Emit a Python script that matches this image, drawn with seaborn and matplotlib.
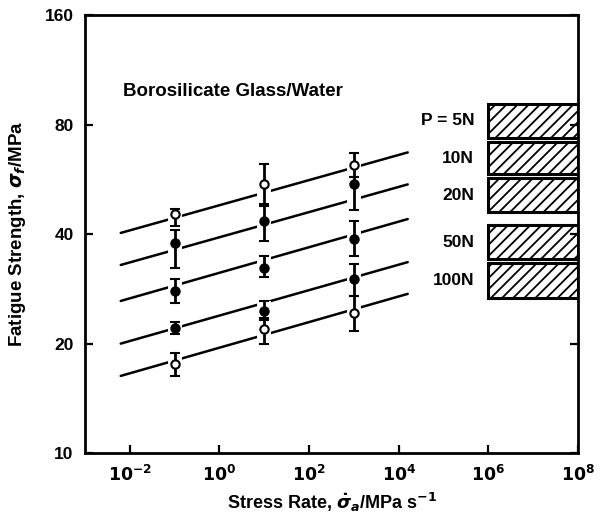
import numpy as np
import pandas as pd
import seaborn as sns
import matplotlib.pyplot as plt

# loads and measured fatigue strengths (MPa) at three stress rates
loads = ['5N', '10N', '20N', '50N', '100N']
load_labels = ['P = 5N', '10N', '20N', '50N', '100N']
rates = [1e-1, 1e1, 1e3]

strength = {
    '5N':   [45.3, 54.8, 61.8],
    '10N':  [37.8, 43.4, 54.8],
    '20N':  [27.9, 32.3, 38.8],
    '50N':  [22.1, 24.6, 30.1],
    '100N': [17.6, 22.0, 24.3],
}
err_low = {
    '5N':   [42.0, 48.3, 57.6],
    '10N':  [32.3, 38.3, 46.7],
    '20N':  [25.9, 30.5, 34.8],
    '50N':  [21.3, 23.2, 27.1],
    '100N': [16.3, 20.0, 21.6],
}
err_high = {
    '5N':   [46.9, 62.2, 67.0],
    '10N':  [41.0, 47.7, 57.6],
    '20N':  [30.1, 34.8, 43.4],
    '50N':  [23.0, 26.2, 33.1],
    '100N': [18.8, 23.5, 27.1],
}
open_marker = {'5N': True, '10N': False, '20N': False, '50N': False, '100N': True}

# predicted curves (ends of each line)
curve_rate = [10 ** -2.2, 10 ** 4.2]
curve_strength = {
    '5N':   [40.3, 67.1],
    '10N':  [32.9, 54.8],
    '20N':  [26.2, 44.0],
    '50N':  [20.0, 33.5],
    '100N': [16.3, 27.4],
}

# inert strength bands (hatched boxes)
band_rate = [1e6, 1e8]
band_low = [73.7, 58.4, 45.9, 34.2, 26.7]
band_high = [91.0, 71.5, 56.9, 42.3, 33.3]

sns.set_style('ticks')
plt.rcParams['font.family'] = ['Liberation Sans', 'DejaVu Sans']
plt.rcParams['font.weight'] = 'bold'
plt.rcParams['hatch.linewidth'] = 1.3
plt.rcParams['text.color'] = 'black'
plt.rcParams['axes.labelcolor'] = 'black'
plt.rcParams['xtick.color'] = 'black'
plt.rcParams['ytick.color'] = 'black'
plt.rcParams['axes.edgecolor'] = 'black'

fig = plt.figure(figsize=(6.06, 5.22), dpi=100)
ax = fig.add_axes([0.140, 0.132, 0.814, 0.839])

curves = pd.DataFrame([
    {'rate': r, 'strength': s, 'load': ld}
    for ld in loads for r, s in zip(curve_rate, curve_strength[ld])
])
sns.lineplot(data=curves, x='rate', y='strength', units='load', estimator=None,
             color='black', linewidth=1.8, ax=ax, zorder=1)

# white halo so the curves break at the error bars
for ld in loads:
    s = np.array(strength[ld])
    yerr = [s - np.array(err_low[ld]), np.array(err_high[ld]) - s]
    ax.errorbar(rates, s, yerr=yerr, fmt='none', ecolor='white',
                elinewidth=10, capsize=0, zorder=2)

for ld in loads:
    s = np.array(strength[ld])
    yerr = [s - np.array(err_low[ld]), np.array(err_high[ld]) - s]
    ax.errorbar(rates, s, yerr=yerr, fmt='o', color='black',
                mfc='white' if open_marker[ld] else 'black', mec='black',
                ms=6, mew=1.5, elinewidth=2, capsize=3.5, capthick=2,
                zorder=3)

for lo, hi, lab in zip(band_low, band_high, load_labels):
    ax.bar(band_rate[0], hi - lo, bottom=lo, width=band_rate[1] - band_rate[0],
           align='edge', fill=False, hatch='///', edgecolor='black',
           linewidth=2.2, zorder=2)
    ax.text(10 ** 5.68, np.sqrt(lo * hi), lab, ha='right', va='center',
            fontsize=12.5, fontweight='bold')

ax.text(10 ** -2.16, 98.5, 'Borosilicate Glass/Water', ha='left', va='center',
        fontsize=13.5, fontweight='bold')

ax.set_xscale('log')
ax.set_yscale('log')
ax.set_xlim(1e-3, 1e8)
ax.set_ylim(10, 160)

xt = [1e-2, 1e0, 1e2, 1e4, 1e6, 1e8]
ax.set_xticks(xt)
ax.set_xticklabels([r'$\mathbf{10^{%d}}$' % int(np.log10(v)) for v in xt])
yt = [10, 20, 40, 80, 160]
ax.set_yticks(yt)
ax.set_yticklabels([str(v) for v in yt])
ax.minorticks_off()
ax.tick_params(direction='in', length=6, width=1.6, labelsize=12.5,
               right=True, pad=8)
for sp in ax.spines.values():
    sp.set_linewidth(2)

ax.set_xlabel(r'Stress Rate, $\dot{\sigma}_a$/MPa s$^{-1}$', fontsize=13,
              fontweight='bold', labelpad=5)
ax.set_ylabel(r'Fatigue Strength, $\sigma_f$/MPa', fontsize=13.5,
              fontweight='bold', labelpad=12)

fig.savefig('out.png', dpi=100)
